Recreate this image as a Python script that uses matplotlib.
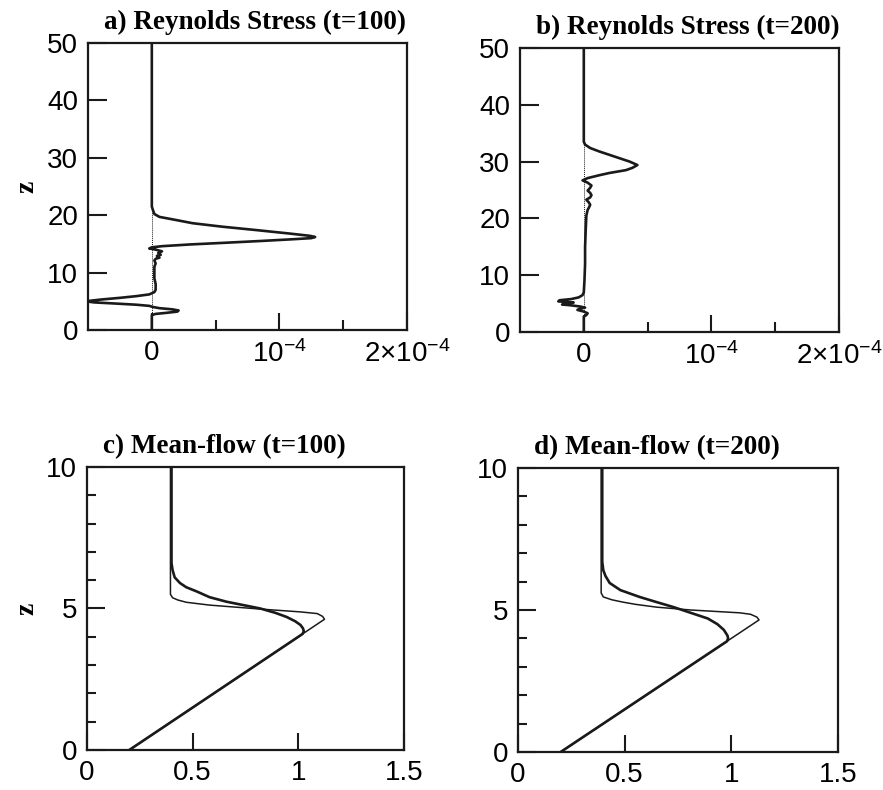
import numpy as np
import matplotlib
matplotlib.use("Agg")
import matplotlib.pyplot as plt
from matplotlib.ticker import FixedLocator

plt.rcParams["mathtext.fontset"] = "custom"
plt.rcParams["mathtext.rm"] = "Liberation Sans"
plt.rcParams["mathtext.it"] = "Liberation Sans"

# Reynolds stress profiles (values in units of 1e-4)
z_rs_100 = [50, 21.5, 20.8, 20.2, 19.7, 19.2, 18.6, 18.0, 17.4, 16.8, 16.4, 16.2,
            16.0, 15.8, 15.5, 15.2, 14.9, 14.6, 14.4, 14.2, 14.0, 13.7, 13.4,
            13.1, 12.9, 12.6, 12.4, 12.1, 11.6, 11.0, 10.0, 9.0, 8.0, 7.0, 6.6,
            6.2, 5.9, 5.6, 5.3, 5.0, 4.8, 4.6, 4.4, 4.2, 4.0, 3.8, 3.6, 3.4,
            3.2, 3.0, 2.8, 2.6, 2.4, 0]
rs_100 = [0, 0, 0.01, 0.02, 0.06, 0.18, 0.32, 0.55, 0.82, 1.08, 1.24, 1.28,
          1.25, 1.1, 0.85, 0.58, 0.3, 0.08, 0.0, -0.02, 0.03, 0.08, 0.05,
          0.07, 0.04, 0.06, 0.03, 0.02, 0.03, 0.02, 0.02, 0.02, 0.03, 0.03, 0.02,
          -0.02, -0.12, -0.25, -0.4, -0.52, -0.45, -0.28, -0.12, -0.02, 0.01,
          0.06, 0.16, 0.21, 0.2, 0.12, 0.03, 0.0, 0, 0]

z_rs_200 = [50, 33.5, 33.0, 32.4, 31.8, 31.2, 30.6, 30.0, 29.4, 28.9, 28.5, 28.0,
            27.6, 27.1, 26.7, 26.3, 25.8, 25.4, 24.9, 24.5, 24.1, 23.7, 23.3,
            22.8, 22.4, 21.9, 21.5, 20.5, 18.0, 15.0, 12.0, 9.0, 7.0, 6.5, 6.1,
            5.8, 5.6, 5.4, 5.2, 5.0, 4.85, 4.7, 4.5, 4.3, 4.1, 3.9, 3.6, 3.3,
            3.0, 2.7, 0]
rs_200 = [0, 0, 0.01, 0.05, 0.12, 0.2, 0.28, 0.36, 0.42, 0.38, 0.33, 0.2,
          0.12, 0.03, -0.01, 0.03, 0.06, 0.05, 0.03, 0.05, 0.06, 0.05, 0.02,
          0.04, 0.05, 0.04, 0.03, 0.02, 0.015, 0.01, 0.01, 0.005, 0, -0.01, -0.04,
          -0.1, -0.19, -0.2, -0.08, -0.14, -0.17, -0.1, -0.03, 0.01, -0.03,
          -0.05, 0.0, 0.03, 0.02, 0.0, 0]

# Mean-flow profiles
z_u0_100 = [0, 4.62, 4.72, 4.82, 4.88, 4.98, 5.05, 5.12, 5.22, 5.3, 5.38, 5.5, 10]
u0_100 = [0.2, 1.124, 1.115, 1.09, 1.01, 0.82, 0.70, 0.58, 0.47, 0.43, 0.405, 0.395, 0.395]
z_u_100 = [0, 4.1, 4.2, 4.3, 4.42, 4.55, 4.7, 4.85, 5.0, 5.12, 5.24, 5.4, 5.6, 5.75,
           5.9, 6.1, 6.36, 6.6, 10]
u_100 = [0.2, 1.02, 1.026, 1.022, 1.01, 0.985, 0.945, 0.89, 0.82, 0.74, 0.66, 0.58,
         0.52, 0.47, 0.44, 0.415, 0.405, 0.40, 0.40]

z_u0_200 = [0, 4.65, 4.75, 4.85, 4.9, 5.0, 5.1, 5.2, 5.28, 5.36, 5.46, 5.6, 10]
u0_200 = [0.2, 1.13, 1.12, 1.09, 1.04, 0.81, 0.65, 0.55, 0.49, 0.44, 0.40, 0.39, 0.39]
z_u_200 = [0, 3.9, 4.0, 4.1, 4.3, 4.5, 4.7, 4.9, 5.1, 5.3, 5.46, 5.7, 5.95, 6.2,
           6.4, 6.7, 10]
u_200 = [0.2, 0.98, 0.985, 0.982, 0.965, 0.935, 0.89, 0.81, 0.73, 0.64, 0.57, 0.48,
         0.43, 0.41, 0.40, 0.395, 0.395]

titles = ["a) Reynolds Stress (t=100)", "b) Reynolds Stress (t=200)",
          "c) Mean-flow (t=100)", "d) Mean-flow (t=200)"]
rs_ticklabels = ["0", r"$\mathregular{10^{-4}}$", r"$\mathregular{2{\times}10^{-4}}$"]

fig = plt.figure(figsize=(8.83, 7.9), dpi=100)
boxes = [[0.0997, 0.5823, 0.3612, 0.3633],
         [0.5889, 0.5797, 0.3613, 0.3595],
         [0.0985, 0.0506, 0.3590, 0.3583],
         [0.5866, 0.0481, 0.3624, 0.3595]]
axes = [fig.add_axes(b) for b in boxes]

tick_font = dict(family="Liberation Sans", size=20)
title_font = dict(family="Liberation Serif", weight="bold", size=19.5)
lw_main = 1.9
col = "#1a1a1a"

for ax in axes:
    for s in ax.spines.values():
        s.set_linewidth(1.6)
        s.set_color(col)
    ax.tick_params(which="both", direction="in", top=False, right=False,
                   width=1.5, color=col, labelsize=20, pad=7)

# Reynolds stress panels
for ax, z, v in [(axes[0], z_rs_100, rs_100), (axes[1], z_rs_200, rs_200)]:
    ax.axvline(0, color=col, lw=0.7, ls=(0, (1, 1)))
    ax.plot(np.array(v) * 1e-4, z, color=col, lw=lw_main)
    ax.set_xlim(-0.5e-4, 2e-4)
    ax.set_ylim(0, 50)
    ax.xaxis.set_major_locator(FixedLocator([0, 1e-4, 2e-4]))
    ax.xaxis.set_minor_locator(FixedLocator([0.5e-4, 1.5e-4]))
    ax.set_xticklabels(rs_ticklabels, **tick_font)
    ax.set_yticks([0, 10, 20, 30, 40, 50])
    ax.set_yticklabels(["0", "10", "20", "30", "40", "50"], **tick_font)
    ax.tick_params(axis="y", which="major", length=14)
    ax.tick_params(axis="x", which="major", length=12)
    ax.tick_params(axis="x", which="minor", length=7)

# Mean-flow panels
for ax, z0, u0, z1, u1 in [(axes[2], z_u0_100, u0_100, z_u_100, u_100),
                           (axes[3], z_u0_200, u0_200, z_u_200, u_200)]:
    ax.plot(u0, z0, color=col, lw=1.1)
    ax.plot(u1, z1, color=col, lw=lw_main)
    ax.set_xlim(0, 1.5)
    ax.set_ylim(0, 10)
    ax.set_xticks([0, 0.5, 1, 1.5])
    ax.set_xticklabels(["0", "0.5", "1", "1.5"], **tick_font)
    ax.set_yticks([0, 5, 10])
    ax.set_yticklabels(["0", "5", "10"], **tick_font)
    ax.yaxis.set_minor_locator(FixedLocator([1, 2, 3, 4, 6, 7, 8, 9]))
    ax.tick_params(axis="y", which="major", length=13)
    ax.tick_params(axis="y", which="minor", length=6.5)
    ax.tick_params(axis="x", which="major", length=12)

for ax, t in zip(axes, titles):
    ax.text(0.05, 1.028, t, transform=ax.transAxes, ha="left", va="bottom", **title_font)

for ax in (axes[0], axes[2]):
    ax.text(-0.19, 0.5, "z", transform=ax.transAxes, rotation=90,
            ha="center", va="center", family="Liberation Serif", weight="bold", size=20)

fig.savefig("out.png", dpi=100)
